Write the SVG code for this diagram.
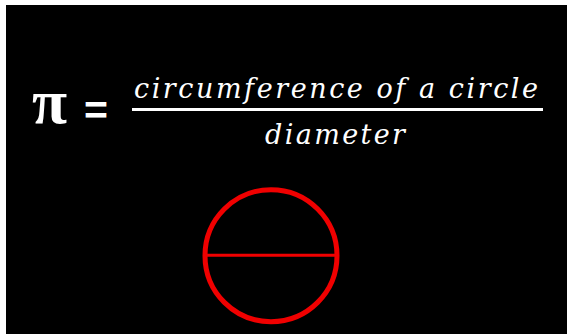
<svg xmlns="http://www.w3.org/2000/svg" width="567" height="334" viewBox="0 0 567 334">
<style>
.t{fill:#fff;font-family:"DejaVu Serif","Liberation Serif",serif;font-style:italic}
.r{fill:none;stroke:#f00000}
</style>
<rect x="0" y="0" width="567" height="334" fill="#fff"/>
<rect x="6" y="5" width="561" height="329" fill="#000"/>
<g id="formula">
<text x="32" y="123" fill="#fff" font-family="'Liberation Serif',serif" font-weight="bold" font-size="64">π</text>
<text x="84" y="124" fill="#fff" font-family="'Liberation Sans',sans-serif" font-weight="bold" font-size="41">=</text>
<text class="t" x="134" y="98" font-size="27" textLength="404" lengthAdjust="spacing">circumference of a circle</text>
<line x1="132" y1="109.5" x2="543" y2="109.5" stroke="#fff" stroke-width="3"/>
<text class="t" x="265" y="144" font-size="27" textLength="140" lengthAdjust="spacing">diameter</text>
</g>
<g id="circle">
<circle class="r" cx="271" cy="255.7" r="66" stroke-width="5"/>
<line class="r" x1="205" y1="255.3" x2="337" y2="255.3" stroke-width="3"/>
</g>
</svg>
